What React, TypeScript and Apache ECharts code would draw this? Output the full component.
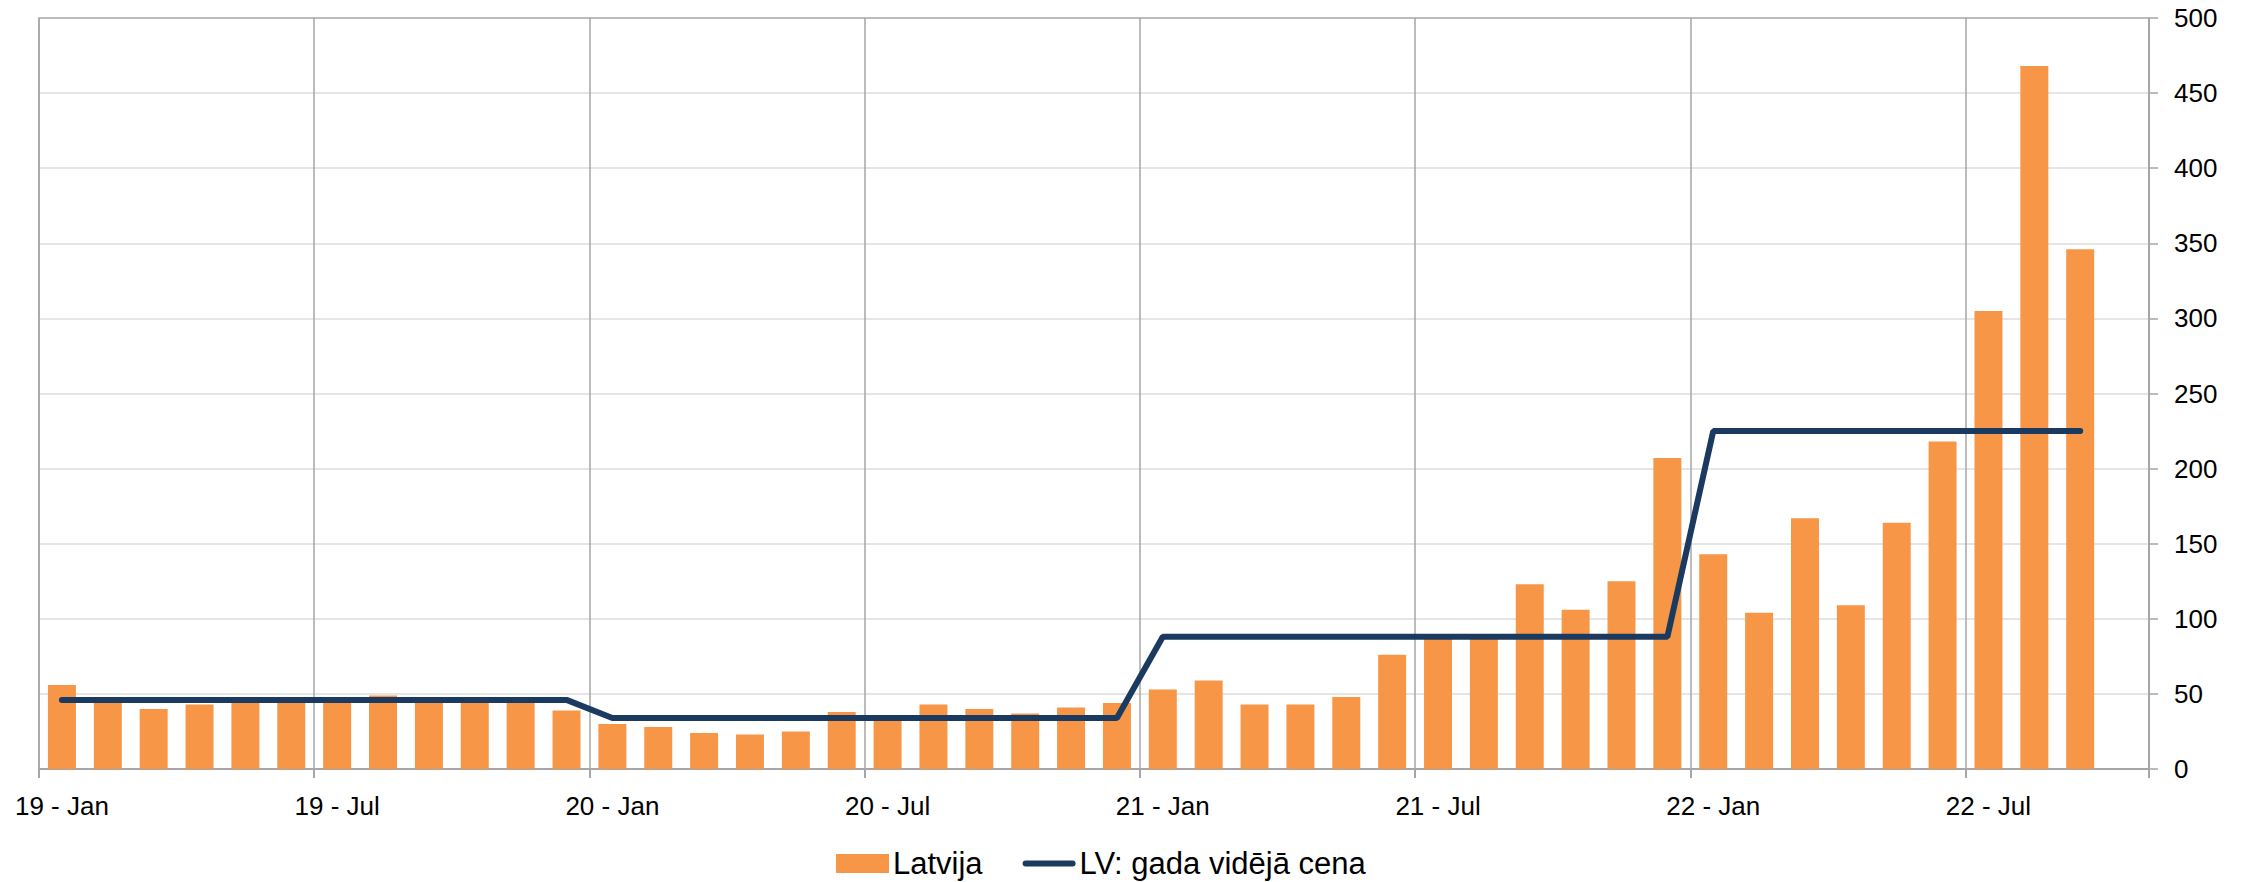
import React, { useEffect, useRef } from "react";
import * as echarts from "echarts";

const categories = [
  "19 - Jan", "19 - Feb", "19 - Mar", "19 - Apr", "19 - May", "19 - Jun",
  "19 - Jul", "19 - Aug", "19 - Sep", "19 - Oct", "19 - Nov", "19 - Dec",
  "20 - Jan", "20 - Feb", "20 - Mar", "20 - Apr", "20 - May", "20 - Jun",
  "20 - Jul", "20 - Aug", "20 - Sep", "20 - Oct", "20 - Nov", "20 - Dec",
  "21 - Jan", "21 - Feb", "21 - Mar", "21 - Apr", "21 - May", "21 - Jun",
  "21 - Jul", "21 - Aug", "21 - Sep", "21 - Oct", "21 - Nov", "21 - Dec",
  "22 - Jan", "22 - Feb", "22 - Mar", "22 - Apr", "22 - May", "22 - Jun",
  "22 - Jul", "22 - Aug", "22 - Sep", "22 - Oct",
];

const latvija = [
  56, 46, 40, 43, 46, 45, 48, 49, 48, 46, 45, 39,
  30, 28, 24, 23, 25, 38, 33, 43, 40, 37, 41, 44,
  53, 59, 43, 43, 48, 76, 88, 88, 123, 106, 125, 207,
  143, 104, 167, 109, 164, 218, 305, 468, 346,
];

const gadaVideja = [
  46, 46, 46, 46, 46, 46, 46, 46, 46, 46, 46, 46,
  34, 34, 34, 34, 34, 34, 34, 34, 34, 34, 34, 34,
  88, 88, 88, 88, 88, 88, 88, 88, 88, 88, 88, 88,
  225, 225, 225, 225, 225, 225, 225, 225, 225,
];

const yTicks = { min: 0, max: 500, interval: 50 };

const FONT = "'Liberation Sans', Arial, sans-serif";
const NAVY = "#1b3a60";

export default function App() {
  const ref = useRef<HTMLDivElement>(null);

  useEffect(() => {
    if (!ref.current) return;
    const chart = echarts.init(ref.current, null, { renderer: "svg" });
    chart.setOption({
      animation: false,
      backgroundColor: "#ffffff",
      textStyle: { fontFamily: FONT },
      grid: {
        left: 39,
        right: 98,
        top: 18,
        bottom: 113,
        show: true,
        borderColor: "#a6a6a6",
        borderWidth: 1.5,
        backgroundColor: "transparent",
      },
      legend: {
        left: 831,
        top: 843,
        itemWidth: 53,
        itemHeight: 19,
        itemGap: 40,
        textStyle: { fontFamily: FONT, fontSize: 31, color: "#000", padding: [0, 0, 0, -1] },
        data: [
          { name: "Latvija", icon: "rect" },
          {
            name: "LV: gada vidējā cena",
            icon: "path://M3,0 L50,0 A3,3 0 0 1 50,6 L3,6 A3,3 0 0 1 3,0 Z",
            itemStyle: { color: NAVY },
          },
        ],
      },
      xAxis: {
        type: "category",
        data: categories,
        boundaryGap: true,
        axisLine: { show: true, lineStyle: { color: "#a6a6a6", width: 2 } },
        axisTick: { show: true, interval: 5, length: 9, lineStyle: { color: "#a6a6a6", width: 2 } },
        axisLabel: {
          interval: 5,
          fontFamily: FONT,
          fontSize: 26,
          color: "#000",
          margin: 24,
        },
        splitLine: { show: true, interval: 5, lineStyle: { color: "#a6a6a6", width: 1.5 } },
      },
      yAxis: {
        type: "value",
        position: "right",
        min: yTicks.min,
        max: yTicks.max,
        interval: yTicks.interval,
        axisLine: { show: true, lineStyle: { color: "#a6a6a6", width: 2 } },
        axisTick: { show: true, length: 9, lineStyle: { color: "#a6a6a6", width: 1.5 } },
        axisLabel: { fontFamily: FONT, fontSize: 26, color: "#000", margin: 25 },
        splitLine: {
          show: true,
          showMinLine: false,
          showMaxLine: false,
          lineStyle: { color: "#dcdcdc", width: 1.5 },
        },
      },
      series: [
        {
          name: "Latvija",
          type: "bar",
          data: latvija,
          barCategoryGap: "39%",
          itemStyle: { color: "#f79646" },
        },
        {
          name: "LV: gada vidējā cena",
          type: "line",
          data: gadaVideja,
          symbol: "none",
          showSymbol: false,
          lineStyle: { color: NAVY, width: 6, cap: "round" },
          itemStyle: { color: NAVY },
          z: 5,
        },
      ],
    });
    return () => chart.dispose();
  }, []);

  return (
    <div
      ref={ref}
      style={{ position: "fixed", left: 0, top: 0, width: 2247, height: 882 }}
    />
  );
}
